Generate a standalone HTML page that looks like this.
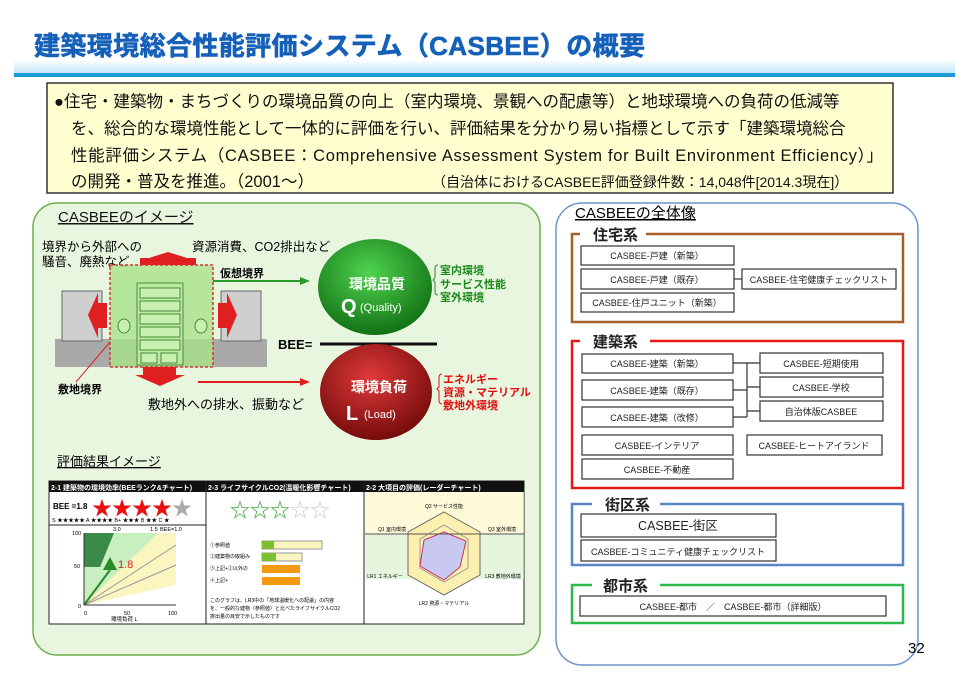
<!DOCTYPE html>
<html><head><meta charset="utf-8"><style>
html,body{margin:0;padding:0;background:#fff;}
svg{display:block;font-family:"Liberation Sans","Noto Sans CJK JP",sans-serif;}
</style></head><body>
<svg width="969" height="684" viewBox="0 0 969 684" xmlns="http://www.w3.org/2000/svg">
<defs>
<linearGradient id="band" x1="0" y1="0" x2="0" y2="1"><stop offset="0" stop-color="#fff"/><stop offset="1" stop-color="#bfe3f5"/></linearGradient>
<radialGradient id="gq" cx="0.45" cy="0.35" r="0.7"><stop offset="0" stop-color="#4fd44f"/><stop offset="1" stop-color="#0e6a10"/></radialGradient>
<radialGradient id="rl" cx="0.45" cy="0.35" r="0.7"><stop offset="0" stop-color="#e03a3a"/><stop offset="1" stop-color="#6e0808"/></radialGradient>
</defs>
<rect x="14" y="60" width="941" height="14" fill="url(#band)"/>
<rect x="14" y="73" width="941" height="4" fill="#1a9ad6"/>
<text x="34" y="55" font-size="26" font-weight="bold" fill="#1560b8" textLength="611" stroke="#1560b8" stroke-width="0.6">建築環境総合性能評価システム（CASBEE）の概要</text>
<rect x="47" y="83" width="846" height="110" fill="#ffffd0" stroke="#333" stroke-width="1.5"/>
<g font-size="16.5" fill="#111">
<text x="54" y="107">●住宅・建築物・まちづくりの環境品質の向上（室内環境、景観への配慮等）と地球環境への負荷の低減等</text>
<text x="71" y="134">を、総合的な環境性能として一体的に評価を行い、評価結果を分かり易い指標として示す「建築環境総合</text>
<text x="71" y="161" textLength="812">性能評価システム（CASBEE：Comprehensive Assessment System for Built Environment Efficiency）」</text>
<text x="71" y="187">の開発・普及を推進。（2001～）</text>
<text x="432" y="187" font-size="14">（自治体におけるCASBEE評価登録件数：14,048件[2014.3現在]）</text>
</g>
<rect x="33" y="203" width="507" height="452" rx="24" fill="#e8f6df" stroke="#6ab04c" stroke-width="1.5"/>
<text x="58" y="222" font-size="15" fill="#111" text-decoration="underline">CASBEEのイメージ</text>
<text x="42" y="251" font-size="12.5">境界から外部への</text>
<text x="42" y="266" font-size="12.5">騒音、廃熱など</text>
<text x="192" y="251" font-size="12.5">資源消費、CO2排出など</text>
<rect x="55" y="339" width="212" height="28" fill="#a9a9a9"/>
<rect x="62" y="291" width="40" height="50" fill="#cfcfcf" stroke="#666"/>
<rect x="221" y="291" width="40" height="50" fill="#cfcfcf" stroke="#666"/>
<rect x="110" y="265" width="103" height="102" fill="#a8e28a" fill-opacity="0.8" stroke="#d33" stroke-dasharray="3,2" stroke-width="1.5"/>
<rect x="137" y="283" width="46" height="82" fill="#b8eaa0" stroke="#4c8a3a"/>
<g fill="#c8f0b0" stroke="#4c8a3a">
<rect x="140" y="288" width="40" height="10"/><rect x="140" y="301" width="40" height="10"/><rect x="140" y="314" width="40" height="10"/><rect x="140" y="327" width="40" height="10"/><rect x="140" y="340" width="40" height="10"/>
<rect x="141" y="353" width="16" height="10"/><rect x="161" y="353" width="16" height="10"/>
<ellipse cx="124" cy="326" rx="6" ry="7"/><ellipse cx="201" cy="326" rx="6" ry="7"/></g>
<g fill="#e02020">
<polygon points="140,265 140,258 149,258 168,252 187,258 196,258 196,265"/>
<polygon points="88,315 98,293 98,303 107,303 107,328 98,328 98,338"/>
<polygon points="237,315 227,293 227,303 218,303 218,328 227,328 227,338"/>
<polygon points="143,367 176,367 176,375 185,375 160,386 135,375 143,375"/>
</g>
<text x="58" y="393" font-size="11" font-weight="bold">敷地境界</text>
<line x1="76" y1="382" x2="110" y2="342" stroke="#e02020"/>
<text x="220" y="277" font-size="11" font-weight="bold">仮想境界</text>
<line x1="213" y1="281" x2="302" y2="281" stroke="#2a9a2a" stroke-width="2"/><polygon points="310,281 300,277 300,285" fill="#2a9a2a"/>
<line x1="198" y1="382" x2="302" y2="382" stroke="#e02020" stroke-width="2"/><polygon points="310,382 300,378 300,386" fill="#e02020"/>
<text x="148" y="409" font-size="13">敷地外への排水、振動など</text>
<ellipse cx="375" cy="287" rx="57" ry="48" fill="url(#gq)"/>
<text x="377" y="289" font-size="14" font-weight="bold" fill="#fff" text-anchor="middle">環境品質</text>
<text x="341" y="313" font-size="20" font-weight="bold" fill="#fff">Q</text>
<text x="360" y="311" font-size="11" fill="#fff">(Quality)</text>
<text x="278" y="349" font-size="13" font-weight="bold">BEE=</text>
<line x1="320" y1="344" x2="437" y2="344" stroke="#111" stroke-width="3"/>
<ellipse cx="376" cy="392" rx="56" ry="48" fill="url(#rl)"/>
<text x="379" y="392" font-size="14" font-weight="bold" fill="#fff" text-anchor="middle">環境負荷</text>
<text x="346" y="420" font-size="20" font-weight="bold" fill="#fff">L</text>
<text x="364" y="418" font-size="11" fill="#fff">(Load)</text>
<g fill="#1c8a1c" font-size="11" font-weight="bold"><text x="440" y="274">室内環境</text><text x="440" y="288">サービス性能</text><text x="440" y="301">室外環境</text></g>
<path d="M438,265 q-3,0 -3,4 v9 l-2,2 l2,2 v9 q0,4 3,4" fill="none" stroke="#1c8a1c"/>
<g fill="#e01010" font-size="11" font-weight="bold"><text x="443" y="383">エネルギー</text><text x="443" y="396">資源・マテリアル</text><text x="443" y="409">敷地外環境</text></g>
<path d="M442,374 q-3,0 -3,4 v9 l-2,2 l2,2 v9 q0,4 3,4" fill="none" stroke="#e01010"/>
<text x="57" y="466" font-size="13" text-decoration="underline">評価結果イメージ</text>
<rect x="49" y="481" width="475" height="143" fill="#fff" stroke="#222"/>
<rect x="49" y="481" width="475" height="11" fill="#111"/>
<line x1="206" y1="481" x2="206" y2="624" stroke="#222"/><line x1="364" y1="481" x2="364" y2="624" stroke="#222"/>
<g font-size="7" fill="#fff" font-weight="bold"><text x="51" y="490">2-1 建築物の環境効率(BEEランク&amp;チャート)</text><text x="208" y="490">2-3 ライフサイクルCO2(温暖化影響チャート)</text><text x="366" y="490">2-2 大項目の評価(レーダーチャート)</text></g>
<text x="53" y="509" font-size="8" font-weight="bold">BEE =1.8</text>
<text x="92" y="515" font-size="20" fill="#e81010">★★★★<tspan fill="#aaa">★</tspan></text>
<text x="52" y="522" font-size="5.5">S ★★★★★ A ★★★★ B+ ★★★ B ★★ C ★</text>
<line x1="49" y1="525" x2="206" y2="525" stroke="#222"/>
<polygon points="84,533 176,533 176,585 84,605" fill="#fbf5c0"/>
<polygon points="84,533 158,533 84,605" fill="#c8efc0"/>
<polygon points="84,533 114,533 100,567 84,567" fill="#3a8a4a"/>
<line x1="84" y1="605" x2="176" y2="545" stroke="#999"/>
<line x1="84" y1="605" x2="176" y2="565" stroke="#999"/>
<line x1="84" y1="605" x2="110" y2="570" stroke="#2a8a2a" stroke-width="2"/>
<polygon points="110,557 103,570 117,570" fill="#2a8a2a"/>
<text x="118" y="568" font-size="11" fill="#e02020">1.8</text>
<line x1="84" y1="533" x2="84" y2="605" stroke="#333"/><line x1="84" y1="605" x2="176" y2="605" stroke="#333"/>
<g font-size="5.5"><text x="72" y="535">100</text><text x="74" y="568">50</text><text x="78" y="608">0</text><text x="84" y="615">0</text><text x="124" y="615">50</text><text x="168" y="615">100</text><text x="111" y="621">環境負荷 L</text><text x="113" y="531">3.0</text><text x="150" y="531">1.5</text><text x="160" y="531">BEE=1.0</text></g>
<text x="230" y="517" font-size="20" fill="#3aa83a">☆☆☆<tspan fill="#ccc">☆☆</tspan></text>
<g><rect x="262" y="541" width="60" height="8" fill="#fbf5c0" stroke="#999"/><rect x="262" y="541" width="12" height="8" fill="#7ac030"/>
<rect x="262" y="553" width="40" height="8" fill="#fbf5c0" stroke="#999"/><rect x="262" y="553" width="14" height="8" fill="#7ac030"/>
<rect x="262" y="565" width="38" height="8" fill="#f39a10"/><rect x="262" y="577" width="38" height="8" fill="#f39a10"/></g>
<g font-size="5"><text x="210" y="547">①参照値</text><text x="210" y="558">②建築物の取組み</text><text x="210" y="570">③上記+②以外の</text><text x="210" y="582">④上記+</text>
<text x="210" y="602">このグラフは、LR3中の「地球温暖化への配慮」の内容</text><text x="210" y="610">を、一般的な建物（参照値）と比べたライフサイクルCO2</text><text x="210" y="618">排出量の目安で示したものです</text></g>
<rect x="365" y="492" width="159" height="42" fill="#fbf5c0" opacity="0.6"/>
<rect x="365" y="534" width="159" height="45" fill="#d6f0c8" opacity="0.6"/>
<polygon points="444,512 480,532 480,575 444,595 408,575 408,532" fill="#fbf0b0" stroke="#666"/>
<polygon points="444,525 468,539 468,568 444,582 420,568 420,539" fill="none" stroke="#999"/>
<polygon points="444,532 466,541 460,567 444,580 420,566 424,540" fill="#c8c8f0" stroke="#d03060"/>
<line x1="365" y1="534" x2="524" y2="534" stroke="#555"/>
<g font-size="5" text-anchor="middle"><text x="444" y="508">Q2 サービス性能</text><text x="392" y="531">Q1 室内環境</text><text x="502" y="531">Q3 室外環境</text><text x="385" y="578">LR1 エネルギー</text><text x="503" y="578">LR3 敷地外環境</text><text x="444" y="605">LR2 資源・マテリアル</text></g>
<rect x="556" y="203" width="362" height="462" rx="26" fill="#fff" stroke="#6d93c9" stroke-width="1.5"/>
<text x="575" y="218" font-size="15" text-decoration="underline">CASBEEの全体像</text>
<g fill="none" stroke-width="2.5">
<rect x="572" y="234" width="331" height="88" stroke="#a5602a"/>
<rect x="572" y="341" width="331" height="147" stroke="#e81818"/>
<rect x="572" y="504" width="331" height="61" stroke="#5a86c8"/>
<rect x="572" y="585" width="331" height="38" stroke="#2cb84a"/>
</g>
<g fill="#fff"><rect x="580" y="226" width="66" height="16"/><rect x="580" y="333" width="70" height="16"/><rect x="592" y="496" width="68" height="16"/><rect x="592" y="577" width="68" height="16"/></g>
<g font-size="15" font-weight="bold" fill="#222"><text x="593" y="240">住宅系</text><text x="593" y="347">建築系</text><text x="605" y="510">街区系</text><text x="603" y="591">都市系</text></g>
<g fill="#fff" stroke="#333" stroke-width="1.2">
<rect x="581" y="246" width="153" height="19"/><rect x="581" y="269" width="153" height="20"/><rect x="581" y="293" width="153" height="19"/><rect x="742" y="269" width="154" height="20"/>
<rect x="582" y="354" width="151" height="19"/><rect x="582" y="380" width="151" height="20"/><rect x="582" y="407" width="151" height="20"/><rect x="582" y="435" width="151" height="20"/><rect x="582" y="459" width="151" height="20"/>
<rect x="760" y="353" width="123" height="20"/><rect x="760" y="377" width="123" height="20"/><rect x="760" y="401" width="123" height="20"/><rect x="747" y="435" width="135" height="20"/>
<rect x="581" y="514" width="195" height="23"/><rect x="581" y="540" width="195" height="21"/>
<rect x="580" y="596" width="306" height="20"/>
</g>
<g stroke="#333" stroke-width="1.2" fill="none"><line x1="734" y1="279" x2="742" y2="279"/>
<path d="M733,363 H760 M733,390 H747 M733,417 H747 M747,363 V417 M747,387 H760 M747,411 H760"/></g>
<g font-size="9" fill="#222" text-anchor="middle">
<text x="657" y="259">CASBEE-戸建（新築）</text><text x="657" y="283">CASBEE-戸建（既存）</text><text x="657" y="306">CASBEE-住戸ユニット（新築）</text><text x="819" y="283">CASBEE-住宅健康チェックリスト</text>
<text x="657" y="367">CASBEE-建築（新築）</text><text x="657" y="394">CASBEE-建築（既存）</text><text x="657" y="421">CASBEE-建築（改修）</text><text x="657" y="449">CASBEE-インテリア</text><text x="657" y="473">CASBEE-不動産</text>
<text x="821" y="367">CASBEE-短期使用</text><text x="821" y="391">CASBEE-学校</text><text x="821" y="415">自治体版CASBEE</text><text x="814" y="449">CASBEE-ヒートアイランド</text>
<text x="678" y="530" font-size="12.5">CASBEE-街区</text><text x="678" y="555">CASBEE-コミュニティ健康チェックリスト</text>
<text x="733" y="610">CASBEE-都市　／　CASBEE-都市（詳細版）</text>
</g>
<text x="908" y="653" font-size="15">32</text>
</svg>
</body></html>
